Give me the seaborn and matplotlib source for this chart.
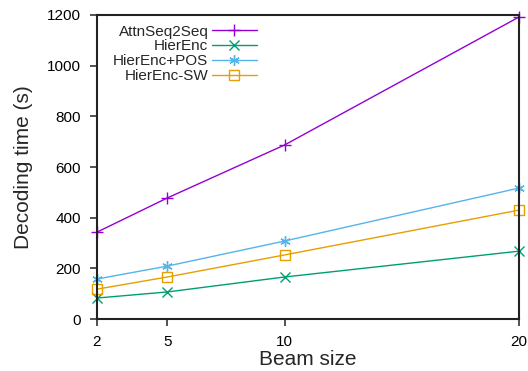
import matplotlib
matplotlib.use("Agg")
import matplotlib.pyplot as plt
import seaborn as sns
import pandas as pd

beam_sizes = [2, 5, 10, 20]
attn_seq2seq = [343, 478, 687, 1192]
hier_enc = [83, 107, 166, 268]
hier_enc_pos = [158, 209, 308, 517]
hier_enc_sw = [118, 166, 253, 430]
series_names = ["AttnSeq2Seq", "HierEnc", "HierEnc+POS", "HierEnc-SW"]
colors = ["#9400d3", "#009e73", "#56b4e9", "#e69f00"]
markers = ["+", "x", (6, 2, 0), "s"]
marker_sizes = [8, 6.5, 7.5, 7]
y_ticks = [0, 200, 400, 600, 800, 1000, 1200]

sns.set_style("ticks")
plt.rcParams["font.family"] = ["Liberation Sans", "DejaVu Sans"]

fig = plt.figure(figsize=(5.28, 3.71), dpi=100)
ax = fig.add_axes([0.1837, 0.140, 0.7993, 0.8196])

for name, vals, c, m, ms in zip(series_names, [attn_seq2seq, hier_enc, hier_enc_pos, hier_enc_sw],
                                colors, markers, marker_sizes):
    df = pd.DataFrame({"beam": beam_sizes, "time": vals})
    sns.lineplot(data=df, x="beam", y="time", ax=ax, color=c, marker=m,
                 markersize=ms, markeredgecolor=c, markerfacecolor="none",
                 markeredgewidth=1.0, linewidth=1.0, label=name, clip_on=False)

ax.set_xlim(2, 20)
ax.set_ylim(0, 1200)
ax.set_xticks(beam_sizes)
ax.set_xticklabels([str(b) for b in beam_sizes])
ax.set_yticks(y_ticks)
ax.tick_params(axis="both", labelsize=11, direction="out", length=5, width=1.2,
               color="#333333", labelcolor="black")
ax.tick_params(axis="x", pad=6.5)
ax.tick_params(axis="y", pad=6.5)
ax.set_xlabel("Beam size", fontsize=15, labelpad=1)
ax.set_ylabel("Decoding time (s)", fontsize=15, labelpad=10)
for s in ax.spines.values():
    s.set_visible(True)
    s.set_linewidth(1.5)
    s.set_color("#222222")

leg = ax.legend(loc="upper right", bbox_to_anchor=(0.378, 0.968), markerfirst=False, frameon=False,
                fontsize=11, handlelength=2.9, handletextpad=0.25, labelspacing=0.05,
                borderaxespad=0.0, borderpad=0.0)

fig.savefig("out.png", dpi=100)
